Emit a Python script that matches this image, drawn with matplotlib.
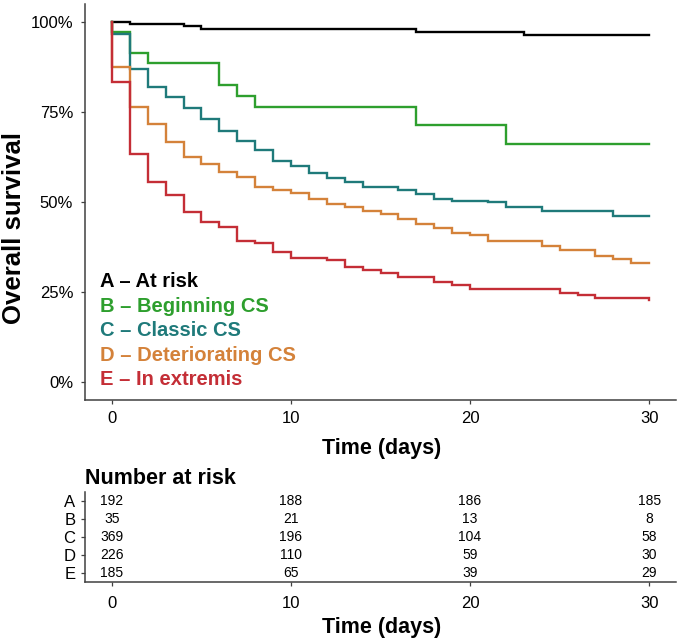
import matplotlib
matplotlib.use("Agg")
import matplotlib.pyplot as plt

plt.rcParams['font.family'] = ['Liberation Sans', 'DejaVu Sans']

# ---------------- data ----------------
group_labels = ["A \u2013 At risk", "B \u2013 Beginning CS", "C \u2013 Classic CS",
                "D \u2013 Deteriorating CS", "E \u2013 In extremis"]
group_letters = ["A", "B", "C", "D", "E"]
colors = ["#000000", "#2E9F2E", "#1F7A7A", "#D4823A", "#C42E36"]

time_A = [0, 1, 4, 5, 17, 23, 30]
surv_A = [100, 99.4, 98.8, 98.1, 97.2, 96.5, 96.5]

time_B = [0, 0, 1, 2, 6, 7, 8, 17, 22, 30]
surv_B = [100, 97.1, 91.4, 88.6, 82.5, 79.4, 76.3, 71.5, 66.0, 66.0]

time_C = [0, 0, 1, 2, 3, 4, 5, 6, 7, 8, 9, 10, 11, 12, 13, 14, 16, 17, 18, 19, 21, 22, 24, 28, 30]
surv_C = [100, 96.7, 86.9, 82.0, 79.1, 76.0, 73.1, 69.8, 66.9, 64.4, 61.4, 60.1, 58.0, 56.7,
          55.5, 54.1, 53.4, 52.1, 50.8, 50.3, 49.9, 48.7, 47.5, 46.1, 46.1]

time_D = [0, 0, 1, 2, 3, 4, 5, 6, 7, 8, 9, 10, 11, 12, 13, 14, 15, 16, 17, 18, 19, 20, 21,
          24, 25, 27, 28, 29, 30]
surv_D = [100, 87.6, 76.5, 71.7, 66.8, 62.4, 60.6, 58.4, 57.0, 54.3, 53.2, 52.5, 50.9, 49.4,
          48.6, 47.6, 46.6, 45.3, 44.0, 42.8, 41.5, 40.8, 39.3, 37.8, 36.8, 35.0, 34.1, 33.0, 33.0]

time_E = [0, 0, 1, 2, 3, 4, 5, 6, 7, 8, 9, 10, 12, 13, 14, 15, 16, 18, 19, 20, 25, 26, 27, 30]
surv_E = [100, 83.4, 63.3, 55.6, 51.9, 47.1, 44.4, 43.1, 39.2, 38.5, 36.1, 34.5, 33.8, 32.0,
          31.1, 30.4, 29.1, 27.9, 26.9, 25.7, 24.8, 24.2, 23.4, 22.9]

times = [time_A, time_B, time_C, time_D, time_E]
survs = [surv_A, surv_B, surv_C, surv_D, surv_E]

risk_times = [0, 10, 20, 30]
risk_A = [192, 188, 186, 185]
risk_B = [35, 21, 13, 8]
risk_C = [369, 196, 104, 58]
risk_D = [226, 110, 59, 30]
risk_E = [185, 65, 39, 29]
risk_rows = [risk_A, risk_B, risk_C, risk_D, risk_E]

y_ticks = [0, 25, 50, 75, 100]
y_ticklabels = ["0%", "25%", "50%", "75%", "100%"]
x_ticks = [0, 10, 20, 30]

# ---------------- figure ----------------
W, H = 680, 640
fig = plt.figure(figsize=(W / 100, H / 100), dpi=100)

def fx(px):
    return px / W

def fy(py):
    return 1 - py / H

spine_col = "#404040"

# main axes
ax = fig.add_axes([fx(85), fy(400), fx(676) - fx(85), fy(4) - fy(400)])
for t, s, c in zip(times, survs, colors):
    ax.step(t, s, where="post", color=c, lw=1.7, solid_joinstyle="miter")
ax.set_xlim(-1.5, 31.5)
ax.set_ylim(-5, 105)
ax.set_yticks(y_ticks)
ax.set_yticklabels(y_ticklabels)
ax.set_xticks(x_ticks)
for side in ["top", "right"]:
    ax.spines[side].set_visible(False)
for side in ["left", "bottom"]:
    ax.spines[side].set_color(spine_col)
    ax.spines[side].set_linewidth(1.1)
ax.tick_params(axis="both", labelsize=12, length=3, width=0.9, color=spine_col, labelcolor="black")
ax.tick_params(axis="y", pad=5.5)
ax.tick_params(axis="x", pad=5)

# legend as coloured text
leg_y = [280, 305, 329, 354, 378]
for lab, c, yy in zip(group_labels, colors, leg_y):
    fig.text(fx(100), fy(yy + 7), lab, color=c, fontsize=14.5, fontweight="bold",
             ha="left", va="baseline")

# axis titles
fig.text(fx(382), fy(454), "Time (days)", fontsize=15.5, fontweight="bold",
         ha="center", va="baseline")
fig.text(fx(14), fy(228), "Overall survival", fontsize=18.5, fontweight="bold",
         rotation=90, ha="center", va="center")

# risk table
axt = fig.add_axes([fx(85), fy(582), fx(676) - fx(85), fy(492) - fy(582)])
axt.set_xlim(-1.5, 31.5)
axt.set_ylim(0.5, 5.5)
nrows = len(risk_rows)
for i, row in enumerate(risk_rows):
    yv = nrows - i
    for xt, v in zip(risk_times, row):
        axt.text(xt, yv, str(v), ha="center", va="center", fontsize=10)
axt.set_yticks([nrows - i for i in range(nrows)])
axt.set_yticklabels(group_letters)
axt.set_xticks(x_ticks)
for side in ["top", "right"]:
    axt.spines[side].set_visible(False)
for side in ["left", "bottom"]:
    axt.spines[side].set_color(spine_col)
    axt.spines[side].set_linewidth(1.1)
axt.tick_params(axis="both", labelsize=12, length=3, width=0.9, color=spine_col, labelcolor="black")
axt.tick_params(axis="y", pad=4)
axt.tick_params(axis="x", pad=7)

fig.text(fx(85), fy(484), "Number at risk", fontsize=15.5, fontweight="bold",
         ha="left", va="baseline")
fig.text(fx(382), fy(633), "Time (days)", fontsize=15.5, fontweight="bold",
         ha="center", va="baseline")

fig.savefig("out.png", dpi=100)
